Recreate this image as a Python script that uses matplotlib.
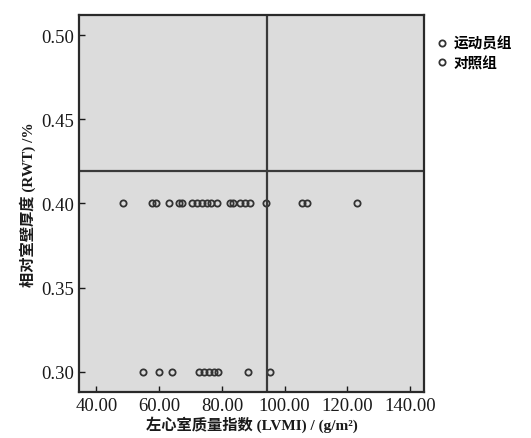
import matplotlib.pyplot as plt

# 数据
x_athlete = [48.4, 57.7, 59.1, 63.0, 66.2, 67.3, 70.5, 72.1, 73.7, 75.2, 76.5,
             78.4, 82.7, 83.7, 85.9, 87.5, 89.0, 94.0, 105.5, 107.1, 123.0]
y_athlete = [0.40] * len(x_athlete)
x_control = [54.9, 59.8, 64.1, 72.8, 74.2, 75.8, 77.4, 78.7, 88.2, 95.2]
y_control = [0.30] * len(x_control)
ref_x = 94.5
ref_y = 0.419
x_ticks = [40, 60, 80, 100, 120, 140]
y_ticks = [0.30, 0.35, 0.40, 0.45, 0.50]
labels = ['运动员组', '对照组']

fam = ['Liberation Serif', 'Noto Sans CJK SC']
plt.rcParams['font.family'] = fam

fig = plt.figure(figsize=(5.31, 4.39), dpi=100)
ax = fig.add_axes([0.149, 0.105, 0.650, 0.859])
ax.set_facecolor('#dcdcdc')

ax.plot(x_athlete, y_athlete, 'o', ms=4.5, mfc='none', mec='#333333', mew=1.3,
        label=labels[0])
ax.plot(x_control, y_control, 'o', ms=4.5, mfc='none', mec='#333333', mew=1.3,
        label=labels[1])

ax.axvline(ref_x, color='#3a3a3a', lw=1.6)
ax.axhline(ref_y, color='#3a3a3a', lw=1.6)

ax.set_xlim(34.5, 144.5)
ax.set_ylim(0.288, 0.512)
ax.set_xticks(x_ticks)
ax.set_xticklabels(['%.2f' % v for v in x_ticks])
ax.set_yticks(y_ticks)
ax.set_yticklabels(['%.2f' % v for v in y_ticks])
ax.tick_params(direction='in', length=4, width=1, labelsize=13.5, colors='#1a1a1a')

for s in ax.spines.values():
    s.set_linewidth(1.6)
    s.set_color('#2a2a2a')

ax.set_xlabel('左心室质量指数 (LVMI) / (g/m²)', fontsize=11, fontweight='bold',
              color='#1a1a1a', labelpad=1)
ax.set_ylabel('相对室壁厚度 (RWT) /%', fontsize=11, fontweight='bold',
              color='#1a1a1a', labelpad=4)

ax.legend(loc='upper left', bbox_to_anchor=(1.0, 0.97), frameon=False,
          handletextpad=0.3, handlelength=1.0, borderaxespad=0.3,
          labelspacing=0.35, prop={'family': fam, 'size': 10.5, 'weight': 'bold'})

fig.savefig('out.png', dpi=100)
